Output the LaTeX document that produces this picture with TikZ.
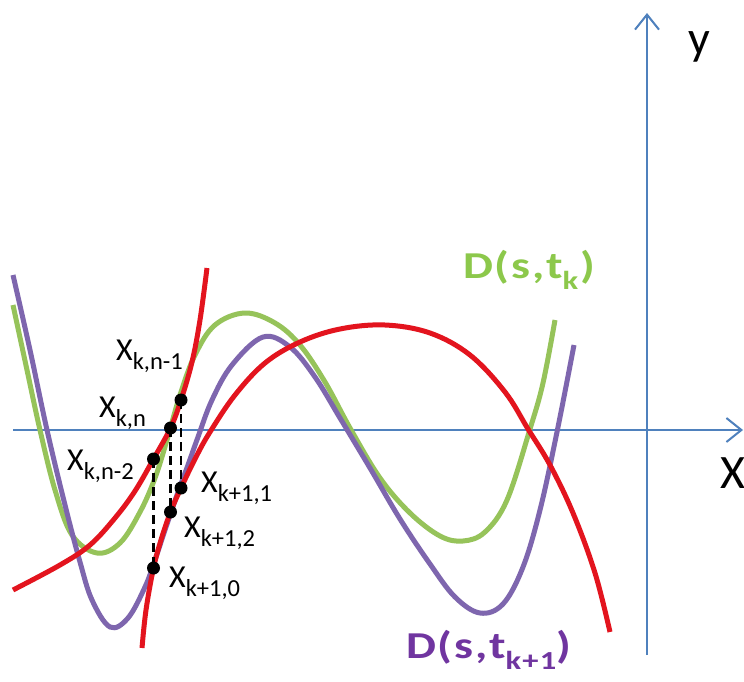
\documentclass[tikz,border=0pt]{standalone}
\usepackage{fontspec}
\setmainfont{Carlito}
\newfontfamily\dfont{Carlito}[LetterSpace=4]
\usetikzlibrary{arrows.meta}
\definecolor{axisblue}{HTML}{4F81BD}
\definecolor{cgreen}{HTML}{96C35A}
\definecolor{cpurple}{HTML}{7E66AE}
\definecolor{cred}{HTML}{E3141E}
\definecolor{tgreen}{HTML}{8CC84B}
\definecolor{tpurple}{HTML}{7035A0}
\newcommand{\subx}[1]{\raisebox{-9pt}{\fontsize{24.5}{24.5}\selectfont #1}}
\newcommand{\subd}[1]{\raisebox{-11pt}{\fontsize{26}{26}\selectfont #1}}
\tikzset{
  axisline/.style={draw=axisblue, line width=2pt, -{Straight Barb[length=15pt,width=24pt,line width=2pt]}},
  curve/.style={line width=5pt, line join=round},
  dot/.style={circle, fill=black, minimum size=13pt, inner sep=0pt},
  dashline/.style={draw=black, line width=2.5pt, dash pattern=on 9pt off 5pt},
  lbl/.style={anchor=base west, inner sep=0pt, font=\fontsize{32}{32}\selectfont},
  axlbl/.style={anchor=base west, inner sep=0pt, font=\fontsize{48}{48}\selectfont},
  dlbl/.style={anchor=base west, inner sep=0pt}
}
\begin{document}
\begin{tikzpicture}[x=1pt,y=-1pt]
\useasboundingbox (0,0) rectangle (744,682);
\fill[white] (0,0) rectangle (744,682);
% axes
\coordinate (xs) at (13,430);
\coordinate (xe) at (743,430);
\coordinate (ys) at (647,655);
\coordinate (ye) at (647,13);
\draw[axisline] (xs) -- (xe);
\draw[axisline] (ys) -- (ye);
\node[axlbl] (ylab) at (688,55) {y};
\node[axlbl] (xlab) at (720,488) {X};
% green curve
\draw[curve, cgreen] plot[smooth, tension=0.6] coordinates {
 (13,305) (27,370) (40,430) (55,490) (72,535) (97,553) (120,543) (140,512)
 (155,478) (167,440) (180,395) (195,355) (215,325) (245,313) (275,323)
 (300,345) (325,382) (350,428) (380,478) (410,513) (440,536) (463,541)
 (485,532) (507,500) (530,429) (543,383) (555,320)};
% purple curve
\draw[curve, cpurple] plot[smooth, tension=0.6] coordinates {
 (13,275) (30,350) (47,430) (65,505) (80,562) (92,600) (110,627) (128,618)
 (145,587) (155,560) (165,530) (177,495) (188,465) (198,437) (212,400)
 (232,365) (263,337) (290,347) (315,377) (340,418) (370,468) (400,519)
 (430,564) (455,597) (480,613) (503,604) (523,567) (540,510) (557,432)
 (574,345)};
% red curves
\draw[curve, cred] plot[smooth, tension=0.6] coordinates {
 (13,590) (60,565) (90,545) (115,518) (135,491) (153.5,459)
 (170.5,428) (181,400) (192,362) (200,320) (207,268)};
\draw[curve, cred] plot[smooth, tension=0.6] coordinates {
 (142,648) (146,610) (153.5,568) (161,540) (170.5,512) (181,488) (196,457)
 (210,432) (235,395) (265,363) (300,342) (340,329) (385,325) (430,333)
 (470,355) (505,392) (528,429) (550,465) (573,513) (595,573) (610,632)};
% points
\node[dot] (kn1) at (181,400) {};
\node[dot] (kn) at (170.5,428) {};
\node[dot] (kn2) at (153.5,459) {};
\node[dot] (k11) at (181,488) {};
\node[dot] (k12) at (170.5,512) {};
\node[dot] (k10) at (153.5,568) {};
\draw[dashline] (kn1.center) -- (k11.center);
\draw[dashline] (kn.center) -- (k12.center);
\draw[dashline] (kn2.center) -- (k10.center);
% labels
\node[lbl] (lkn1) at (116,360) {X\subx{k,n-1}};
\node[lbl] (lkn) at (99,417) {X\subx{k,n}};
\node[lbl] (lkn2) at (67,470) {X\subx{k,n-2}};
\node[lbl] (lk11) at (201,492) {X\subx{k+1,1}};
\node[lbl] (lk12) at (184,537) {X\subx{k+1,2}};
\node[lbl] (lk10) at (169,587) {X\subx{k+1,0}};
\node[dlbl, text=tgreen] (dg) at (463,278) {\scalebox{1.25}[1]{\dfont\bfseries\fontsize{38}{38}\selectfont D(s,t\subd{k}\hspace{2pt})}};
\node[dlbl, text=tpurple] (dp) at (406,658) {\scalebox{1.25}[1]{\dfont\bfseries\fontsize{38}{38}\selectfont D(s,t\subd{k+1})}};
\end{tikzpicture}
\end{document}
